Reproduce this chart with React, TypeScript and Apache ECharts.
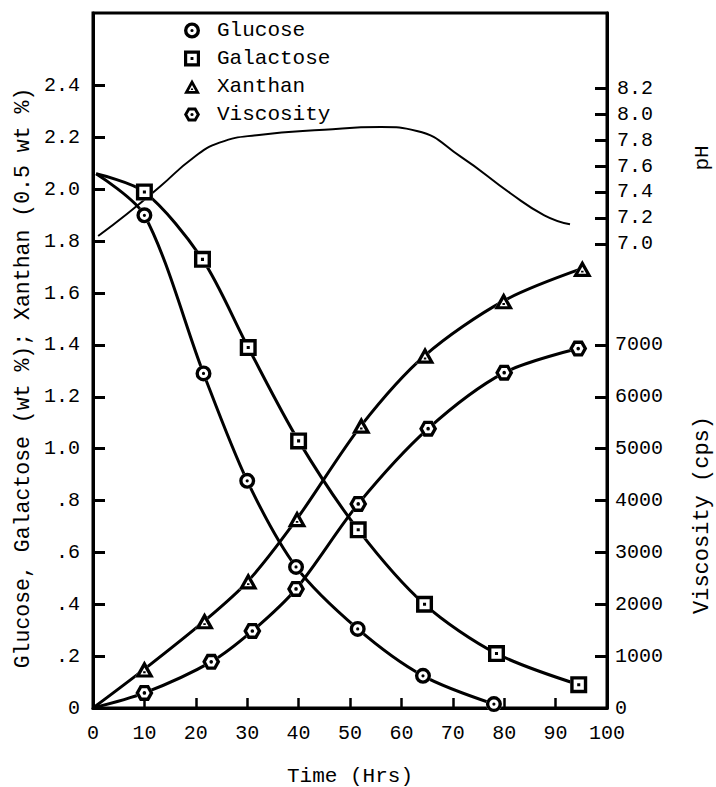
import React, { useEffect, useRef } from "react";
import * as echarts from "echarts";

const FONT = '"Liberation Mono", "DejaVu Sans Mono", monospace';

// Time (Hrs) of the plotted markers
const glucoseT = [10, 21.5, 30, 39.5, 51.5, 64.2, 78];
const glucoseV = [1.9, 1.29, 0.876, 0.544, 0.305, 0.124, 0.015];
const galactoseT = [10, 21.3, 30.2, 40, 51.6, 64.5, 78.5, 94.5];
const galactoseV = [1.99, 1.73, 1.39, 1.03, 0.687, 0.4, 0.21, 0.09];
const xanthanT = [10, 21.7, 30.2, 39.7, 52.2, 64.6, 79.9, 95.2];
const xanthanV = [0.15, 0.336, 0.49, 0.73, 1.09, 1.36, 1.57, 1.695];
const viscosityT = [10, 23, 31, 39.5, 51.6, 65.2, 80, 94.4];
const viscosityV = [290, 890, 1485, 2295, 3935, 5385, 6465, 6930];
// curve starting points (no marker)
const sugarStart = [0.6, 2.06];
const xanthanStart = [0, 0];
const viscosityStart = [0, 0];
// pH curve
const phT = [1, 6.6, 13, 19.4, 24.6, 32.3, 45, 56, 63, 71.6, 81.2, 87.8, 92.8];
const phV = [7.06, 7.23, 7.44, 7.66, 7.78, 7.84, 7.88, 7.9, 7.87, 7.67, 7.39, 7.22, 7.15];

const leftTicks = [0, 0.2, 0.4, 0.6, 0.8, 1.0, 1.2, 1.4, 1.6, 1.8, 2.0, 2.2, 2.4];
const viscTicks = [0, 1000, 2000, 3000, 4000, 5000, 6000, 7000];
const phTicks = [7.0, 7.2, 7.4, 7.6, 7.8, 8.0, 8.2];
const xTicks = [0, 10, 20, 30, 40, 50, 60, 70, 80, 90, 100];

const CIRCLE_OUT = "M10 0 A10 10 0 1 1 -10 0 A10 10 0 1 1 10 0 Z";
const CIRCLE_RING =
  CIRCLE_OUT +
  " M5.8 0 A5.8 5.8 0 1 0 -5.8 0 A5.8 5.8 0 1 0 5.8 0 Z M2 0 A2 2 0 1 1 -2 0 A2 2 0 1 1 2 0 Z";
const SQUARE_OUT = "M-10 -10 L10 -10 L10 10 L-10 10 Z";
const SQUARE_RING =
  SQUARE_OUT + " M-6 -6 L-6 6 L6 6 L6 -6 Z M-1.8 -1.8 L1.8 -1.8 L1.8 1.8 L-1.8 1.8 Z";
const TRI_OUT = "M0 -10 L10 8 L-10 8 Z";
const TRI_RING =
  TRI_OUT + " M0 -2.8 L-4.2 4.6 L4.2 4.6 Z M-1.3 1.4 L1.3 1.4 L1.3 3.4 L-1.3 3.4 Z";
const HEX_OUT = "M10 0 L5 8.66 L-5 8.66 L-10 0 L-5 -8.66 L5 -8.66 Z";
const HEX_RING =
  HEX_OUT +
  " M5.8 0 L2.9 -5.02 L-2.9 -5.02 L-5.8 0 L-2.9 5.02 L2.9 5.02 Z M2 0 A2 2 0 1 1 -2 0 A2 2 0 1 1 2 0 Z";

function pairs(t: number[], v: number[]) {
  return t.map((x, i) => [x, v[i]]);
}

export default function App() {
  const ref = useRef<HTMLDivElement>(null);

  useEffect(() => {
    if (!ref.current) return;
    const chart = echarts.init(ref.current, null, { renderer: "svg" });

    const sets = [
      { name: "Glucose", t: glucoseT, v: glucoseV, start: sugarStart, out: CIRCLE_OUT, ring: CIRCLE_RING, size: [16, 16], yi: 0 },
      { name: "Galactose", t: galactoseT, v: galactoseV, start: sugarStart, out: SQUARE_OUT, ring: SQUARE_RING, size: [17, 17], yi: 0 },
      { name: "Xanthan", t: xanthanT, v: xanthanV, start: xanthanStart, out: TRI_OUT, ring: TRI_RING, size: [19, 17], yi: 0 },
      { name: "Viscosity", t: viscosityT, v: viscosityV, start: viscosityStart, out: HEX_OUT, ring: HEX_RING, size: [18, 16], yi: 1 },
    ];

    const series: any[] = [];
    sets.forEach((s) => {
      series.push({
        type: "line",
        name: s.name + " curve",
        yAxisIndex: s.yi,
        data: [s.start, ...pairs(s.t, s.v)],
        smooth: 0.3,
        showSymbol: false,
        symbol: "none",
        lineStyle: { color: "#000", width: 3 },
        z: 2,
        silent: true,
      });
      series.push({
        type: "scatter",
        name: s.name + " bg",
        yAxisIndex: s.yi,
        data: pairs(s.t, s.v),
        symbol: "path://" + s.out,
        symbolSize: s.size,
        itemStyle: { color: "#fff", opacity: 1 },
        z: 4,
        silent: true,
      });
      series.push({
        type: "scatter",
        name: s.name,
        yAxisIndex: s.yi,
        data: pairs(s.t, s.v),
        symbol: "path://" + s.ring,
        symbolSize: s.size,
        itemStyle: { color: "#000", opacity: 1 },
        z: 5,
      });
    });
    series.push({
      type: "line",
      name: "pH",
      yAxisIndex: 2,
      data: pairs(phT, phV),
      smooth: 0.5,
      symbol: "none",
      lineStyle: { color: "#000", width: 2 },
      z: 2,
      silent: true,
    });

    const labelStyle = { color: "#000", fontSize: 20, fontFamily: FONT };
    const axisLine = { show: true, lineStyle: { color: "#000", width: 3 } };

    chart.setOption({
      animation: false,
      backgroundColor: "#fff",
      textStyle: { fontFamily: FONT },
      grid: {
        left: 93,
        top: 13,
        width: 514,
        height: 695,
        show: true,
        borderColor: "#000",
        borderWidth: 3,
        backgroundColor: "transparent",
      },
      legend: {
        orient: "vertical",
        left: 179,
        top: 15,
        itemWidth: 16,
        itemHeight: 16,
        itemGap: 7,
        selectedMode: false,
        data: ["Glucose", "Galactose", "Xanthan", "Viscosity"],
        itemStyle: { opacity: 1 },
        textStyle: { color: "#000", fontSize: 21, lineHeight: 16, fontFamily: FONT, padding: [0, 0, 0, 12] },
      },
      xAxis: {
        type: "value",
        min: 0,
        max: 100,
        interval: 10,
        axisLine,
        axisTick: { inside: true, length: 10, customValues: xTicks, lineStyle: { color: "#000", width: 2.5 } },
        axisLabel: { ...labelStyle, margin: 15, customValues: xTicks },
        splitLine: { show: false },
      },
      yAxis: [
        {
          type: "value",
          position: "left",
          min: 0,
          max: 2.68,
          axisLine,
          axisTick: { inside: true, length: 12, customValues: leftTicks, lineStyle: { color: "#000", width: 3 } },
          axisLabel: {
            ...labelStyle,
            margin: 13,
            customValues: leftTicks,
            formatter: (v: number) =>
              v === 0 ? "0" : v < 1 ? "." + Math.round(v * 10) : v.toFixed(1),
          },
          splitLine: { show: false },
        },
        {
          type: "value",
          position: "right",
          min: 0,
          max: 13400,
          axisLine,
          axisTick: { inside: true, length: 12, customValues: viscTicks, lineStyle: { color: "#000", width: 3 } },
          axisLabel: { ...labelStyle, margin: 8, customValues: viscTicks, formatter: (v: number) => String(v) },
          splitLine: { show: false },
        },
        {
          type: "value",
          position: "right",
          min: 3.42,
          max: 8.78,
          axisLine: { show: false },
          axisTick: { show: true, inside: true, length: 12, customValues: phTicks, lineStyle: { color: "#000", width: 3 } },
          axisLabel: { ...labelStyle, margin: 10, customValues: phTicks, formatter: (v: number) => v.toFixed(1) },
          splitLine: { show: false },
        },
      ],
      graphic: [
        {
          type: "text",
          x: 23,
          y: 378,
          rotation: Math.PI / 2,
          style: {
            text: "Glucose, Galactose (wt %); Xanthan (0.5 wt %)",
            fill: "#000",
            font: `21.5px ${FONT}`,
            textAlign: "center",
            textVerticalAlign: "middle",
          },
        },
        {
          type: "text",
          x: 702,
          y: 515,
          rotation: Math.PI / 2,
          style: {
            text: "Viscosity (cps)",
            fill: "#000",
            font: `22px ${FONT}`,
            textAlign: "center",
            textVerticalAlign: "middle",
          },
        },
        {
          type: "text",
          x: 702,
          y: 158,
          rotation: Math.PI / 2,
          style: {
            text: "pH",
            fill: "#000",
            font: `21px ${FONT}`,
            textAlign: "center",
            textVerticalAlign: "middle",
          },
        },
        {
          type: "text",
          x: 350,
          y: 776,
          style: {
            text: "Time (Hrs)",
            fill: "#000",
            font: `21px ${FONT}`,
            textAlign: "center",
            textVerticalAlign: "middle",
          },
        },
      ],
      series,
    });

    return () => chart.dispose();
  }, []);

  return (
    <div
      ref={ref}
      style={{ position: "fixed", left: 0, top: 0, width: 716, height: 787, background: "#fff" }}
    />
  );
}
